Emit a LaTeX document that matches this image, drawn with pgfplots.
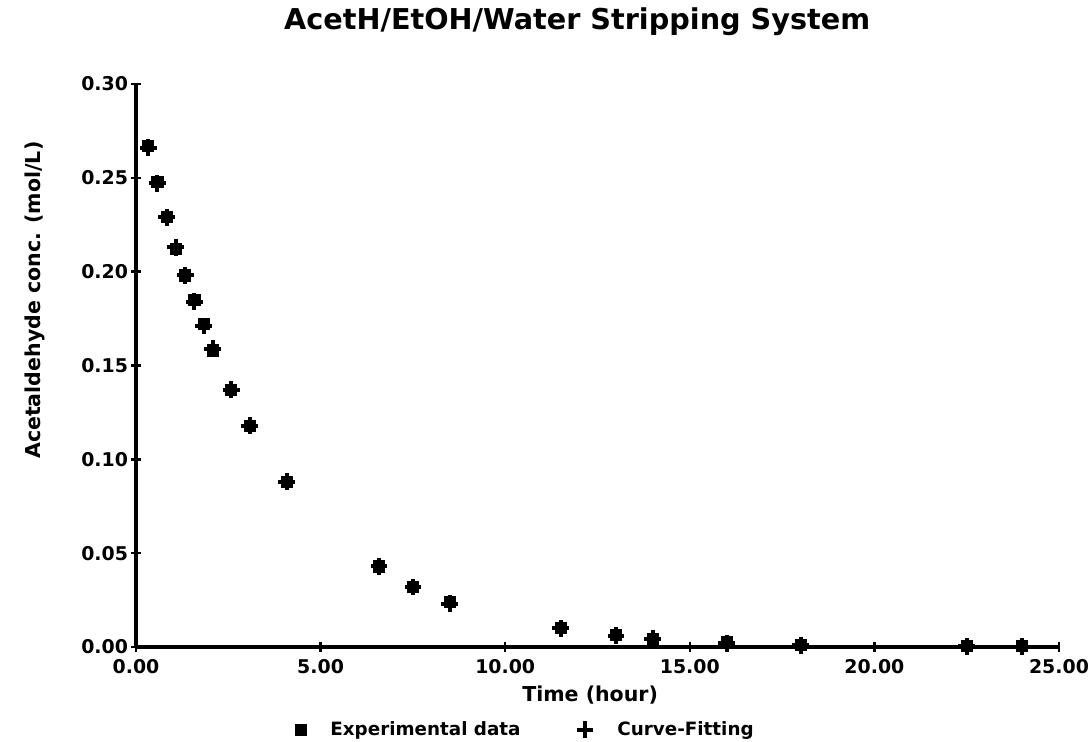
\documentclass[border=0pt]{standalone}
\usepackage{fontspec}
\setmainfont{DejaVu Sans}
\usepackage{pgfplots}
\pgfplotsset{compat=1.18}
\begin{document}
\begin{tikzpicture}
\begin{axis}[
    scale only axis,
    width=461.5bp, height=281.5bp,
    xmin=0, xmax=25, ymin=0, ymax=0.30,
    axis lines=left,
    axis line style={line width=1.6bp, -},
    clip=false,
    xtick={0,5,10,15,20,25},
    ytick={0,0.05,0.10,0.15,0.20,0.25,0.30},
    scaled y ticks=false,
    tick align=center,
    major tick length=5bp,
    tick style={line width=1.2bp, black},
    /pgf/number format/.cd, fixed, fixed zerofill, precision=2, assume math mode=true,
    /pgfplots/.cd,
    tick label style={font=\bfseries\fontsize{9.5}{11}\selectfont},
    yticklabel style={xshift=2bp},
    title={AcetH/EtOH/Water Stripping System},
    title style={at={(0.478,1.09)}, anchor=center, yshift=0pt, font=\bfseries\fontsize{14.4}{17}\selectfont},
    xlabel={Time (hour)},
    xlabel style={at={(0.492,-0.086)}, anchor=center, font=\bfseries\fontsize{10.3}{12}\selectfont},
    ylabel={Acetaldehyde conc. (mol/L)},
    ylabel style={at={(-0.109,0.616)}, anchor=center, font=\bfseries\fontsize{10.3}{12}\selectfont},
    legend columns=2,
    legend style={draw=none, at={(0.423,-0.147)}, anchor=center,
        font=\bfseries\fontsize{9.2}{11}\selectfont,
        /tikz/every odd column/.append style={column sep=10bp},
        /tikz/every even column/.append style={column sep=26bp}},
]
\addplot[only marks, mark=square*, mark size=2.8bp, black] coordinates {
(0.33,0.267) (0.58,0.248) (0.83,0.229) (1.08,0.212) (1.33,0.198) (1.58,0.185)
(1.83,0.172) (2.08,0.158) (2.58,0.137) (3.08,0.118) (4.08,0.088) (6.58,0.043)
(7.5,0.032) (8.5,0.024) (11.5,0.010) (13.0,0.0065) (14.0,0.0045) (16.0,0.0025)
(18.0,0.0012) (22.5,0.0005) (24.0,0.0004)
};
\addplot[only marks, mark=+, mark size=4.2bp, black, mark options={line width=2bp}] coordinates {
(0.33,0.266) (0.58,0.247) (0.83,0.229) (1.08,0.213) (1.33,0.198) (1.58,0.184)
(1.83,0.171) (2.08,0.159) (2.58,0.137) (3.08,0.118) (4.08,0.088) (6.58,0.043)
(7.5,0.032) (8.5,0.023) (11.5,0.010) (13.0,0.006) (14.0,0.0045) (16.0,0.002)
(18.0,0.001) (22.5,0.0003) (24.0,0.0002)
};
\legend{Experimental data, Curve-Fitting}
\end{axis}
\pgfresetboundingbox
\useasboundingbox ([shift={(-68bp,-47.5bp)}]current axis.south west) rectangle ([shift={(16.5bp,42bp)}]current axis.north east);
\end{tikzpicture}
\end{document}
